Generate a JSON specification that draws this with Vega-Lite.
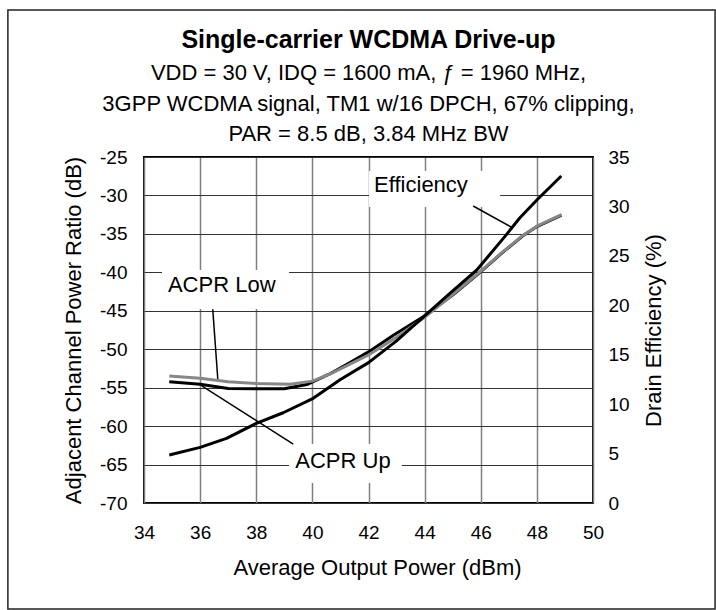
{
  "$schema": "https://vega.github.io/schema/vega-lite/v6.json",
  "width": 449,
  "height": 346,
  "autosize": {"type": "none"},
  "padding": {"left": 144, "top": 157, "right": 123, "bottom": 107},
  "background": "white",
  "config": {
    "font": "Liberation Sans",
    "view": {"stroke": "#000", "strokeWidth": 2},
    "axis": {
      "labelColor": "#000", "titleColor": "#000",
      "labelFont": "Liberation Sans", "titleFont": "Liberation Sans",
      "labelFontSize": 19, "titleFontSize": 22, "titleFontWeight": "normal",
      "ticks": false, "domain": false, "labelFlush": false, "labelOverlap": false,
      "labelExpr": "'' + datum.value", "tickCount": 20
    },
    "axisLeft": {"tickCount": 20, "grid": true, "gridColor": "#333", "gridWidth": 1, "labelPadding": 17, "titlePadding": 14},
    "axisBottom": {"tickCount": 20, "grid": true, "gridColor": "#808080", "gridWidth": 1.5, "labelPadding": 20, "titlePadding": 15, "titleX": 233},
    "axisRight": {"tickCount": 20, "grid": false, "labelPadding": 15, "titlePadding": 14}
  },
  "title": {
    "text": "Single-carrier WCDMA Drive-up",
    "subtitle": [
      "VDD = 30 V, IDQ = 1600 mA, ƒ = 1960 MHz,",
      "3GPP WCDMA signal, TM1 w/16 DPCH, 67% clipping,",
      "PAR = 8.5 dB, 3.84 MHz BW"
    ],
    "font": "Liberation Sans",
    "fontSize": 25,
    "fontWeight": "bold",
    "color": "#000",
    "subtitleFont": "Liberation Sans",
    "subtitleFontSize": 22,
    "subtitleColor": "#000",
    "subtitleLineHeight": 30.5,
    "subtitlePadding": 10,
    "anchor": "middle",
    "offset": -136
  },
  "datasets": {
    "acpr": [
      {"power": 34.9, "acpr": -53.47, "series": "ACPR Low"},
      {"power": 36, "acpr": -53.77, "series": "ACPR Low"},
      {"power": 37, "acpr": -54.24, "series": "ACPR Low"},
      {"power": 38, "acpr": -54.45, "series": "ACPR Low"},
      {"power": 39.2, "acpr": -54.55, "series": "ACPR Low"},
      {"power": 40, "acpr": -54.15, "series": "ACPR Low"},
      {"power": 40.7, "acpr": -53.1, "series": "ACPR Low"},
      {"power": 41.34, "acpr": -51.95, "series": "ACPR Low"},
      {"power": 42, "acpr": -50.75, "series": "ACPR Low"},
      {"power": 43, "acpr": -48.45, "series": "ACPR Low"},
      {"power": 44, "acpr": -45.85, "series": "ACPR Low"},
      {"power": 45, "acpr": -42.9, "series": "ACPR Low"},
      {"power": 45.86, "acpr": -40.3, "series": "ACPR Low"},
      {"power": 46.7, "acpr": -37.6, "series": "ACPR Low"},
      {"power": 47.5, "acpr": -35.2, "series": "ACPR Low"},
      {"power": 48, "acpr": -34.0, "series": "ACPR Low"},
      {"power": 48.88, "acpr": -32.5, "series": "ACPR Low"},
      {"power": 34.9, "acpr": -54.24, "series": "ACPR Up"},
      {"power": 36, "acpr": -54.55, "series": "ACPR Up"},
      {"power": 37, "acpr": -55.1, "series": "ACPR Up"},
      {"power": 38, "acpr": -55.15, "series": "ACPR Up"},
      {"power": 39, "acpr": -55.15, "series": "ACPR Up"},
      {"power": 39.8, "acpr": -54.6, "series": "ACPR Up"},
      {"power": 40.6, "acpr": -53.25, "series": "ACPR Up"},
      {"power": 41.34, "acpr": -51.73, "series": "ACPR Up"},
      {"power": 42, "acpr": -50.35, "series": "ACPR Up"},
      {"power": 42.9, "acpr": -48.15, "series": "ACPR Up"},
      {"power": 43.95, "acpr": -45.77, "series": "ACPR Up"},
      {"power": 45, "acpr": -42.95, "series": "ACPR Up"},
      {"power": 45.86, "acpr": -40.35, "series": "ACPR Up"},
      {"power": 46.7, "acpr": -37.65, "series": "ACPR Up"},
      {"power": 47.5, "acpr": -35.25, "series": "ACPR Up"},
      {"power": 48, "acpr": -34.05, "series": "ACPR Up"},
      {"power": 48.88, "acpr": -32.55, "series": "ACPR Up"}
    ],
    "eff": [
      {"power": 34.9, "eff": 4.86},
      {"power": 36, "eff": 5.63},
      {"power": 36.94, "eff": 6.54},
      {"power": 38, "eff": 8.06},
      {"power": 38.96, "eff": 9.13},
      {"power": 40.03, "eff": 10.59},
      {"power": 41, "eff": 12.5},
      {"power": 42, "eff": 14.2},
      {"power": 43, "eff": 16.4},
      {"power": 43.95, "eff": 18.8},
      {"power": 44.9, "eff": 21.2},
      {"power": 45.86, "eff": 23.57},
      {"power": 46.9, "eff": 27.1},
      {"power": 47.38, "eff": 28.8},
      {"power": 48, "eff": 30.65},
      {"power": 48.87, "eff": 33.08}
    ]
  },
  "resolve": {"scale": {"y": "independent"}},
  "layer": [
    {
      "layer": [
        {
          "data": {"name": "acpr"},
          "transform": [{"filter": "datum.series === 'ACPR Up'"}],
          "mark": {"type": "line", "color": "#000", "strokeWidth": 3, "strokeJoin": "round"},
          "encoding": {
            "x": {
              "field": "power", "type": "quantitative",
              "scale": {"domain": [34, 50], "nice": false, "zero": false},
              "axis": {"title": "Average Output Power (dBm)", "values": [34, 36, 38, 40, 42, 44, 46, 48, 50]}
            },
            "y": {
              "field": "acpr", "type": "quantitative",
              "scale": {"domain": [-70, -25], "nice": false, "zero": false},
              "axis": {"title": "Adjacent Channel Power Ratio (dB)", "values": [-70, -65, -60, -55, -50, -45, -40, -35, -30, -25]}
            }
          }
        },
        {
          "data": {"values": [{}]},
          "mark": {"type": "rect", "fill": null, "fillOpacity": 0, "stroke": "#222", "strokeWidth": 1.5},
          "encoding": {
            "x": {"datum": 29.15, "type": "quantitative"},
            "x2": {"datum": 54.35},
            "y": {"datum": -5.88, "type": "quantitative"},
            "y2": {"datum": -83.79}
          }
        },
        {
          "data": {"values": [{}]},
          "mark": {"type": "rect", "fill": "white", "stroke": null},
          "encoding": {
            "x": {"datum": 42.02, "type": "quantitative"},
            "x2": {"datum": 46.69},
            "y": {"datum": -26.82, "type": "quantitative"},
            "y2": {"datum": -31.5}
          }
        },
        {
          "data": {"values": [{}]},
          "mark": {"type": "rect", "fill": "white", "stroke": null},
          "encoding": {
            "x": {"datum": 34.64, "type": "quantitative"},
            "x2": {"datum": 39.17},
            "y": {"datum": -39.7, "type": "quantitative"},
            "y2": {"datum": -44.77}
          }
        },
        {
          "data": {"values": [{}]},
          "mark": {"type": "rect", "fill": "white", "stroke": null},
          "encoding": {
            "x": {"datum": 39.17, "type": "quantitative"},
            "x2": {"datum": 43.19},
            "y": {"datum": -62.33, "type": "quantitative"},
            "y2": {"datum": -67.4}
          }
        },
        {
          "data": {"values": [{}]},
          "mark": {"type": "rule", "color": "#000", "strokeWidth": 1.5},
          "encoding": {
            "x": {"datum": 45.73, "type": "quantitative"},
            "x2": {"datum": 47.1},
            "y": {"datum": -31.37, "type": "quantitative"},
            "y2": {"datum": -34.14}
          }
        },
        {
          "data": {"values": [{}]},
          "mark": {"type": "rule", "color": "#000", "strokeWidth": 1.5},
          "encoding": {
            "x": {"datum": 36.45, "type": "quantitative"},
            "x2": {"datum": 36.63},
            "y": {"datum": -44.81, "type": "quantitative"},
            "y2": {"datum": -53.91}
          }
        },
        {
          "data": {"values": [{}]},
          "mark": {"type": "rule", "color": "#000", "strokeWidth": 1.5},
          "encoding": {
            "x": {"datum": 39.32, "type": "quantitative"},
            "x2": {"datum": 36.06},
            "y": {"datum": -62.33, "type": "quantitative"},
            "y2": {"datum": -54.78}
          }
        },
        {
          "data": {"values": [{}]},
          "mark": {"type": "text", "text": "Efficiency", "fontSize": 22, "align": "center", "baseline": "alphabetic", "color": "#000"},
          "encoding": {
            "x": {"datum": 43.87, "type": "quantitative"},
            "y": {"datum": -29.51, "type": "quantitative"}
          }
        },
        {
          "data": {"values": [{}]},
          "mark": {"type": "text", "text": "ACPR Low", "fontSize": 22, "align": "center", "baseline": "alphabetic", "color": "#000"},
          "encoding": {
            "x": {"datum": 36.77, "type": "quantitative"},
            "y": {"datum": -42.56, "type": "quantitative"}
          }
        },
        {
          "data": {"values": [{}]},
          "mark": {"type": "text", "text": "ACPR Up", "fontSize": 22, "align": "center", "baseline": "alphabetic", "color": "#000"},
          "encoding": {
            "x": {"datum": 41.09, "type": "quantitative"},
            "y": {"datum": -65.45, "type": "quantitative"}
          }
        },
        {
          "data": {"name": "acpr"},
          "transform": [{"filter": "datum.series === 'ACPR Low'"}],
          "mark": {"type": "line", "color": "#878787", "strokeWidth": 3, "strokeJoin": "round"},
          "encoding": {
            "x": {"field": "power", "type": "quantitative"},
            "y": {"field": "acpr", "type": "quantitative"}
          }
        }
      ]
    },
    {
      "data": {"name": "eff"},
      "mark": {"type": "line", "color": "#000", "strokeWidth": 3, "strokeJoin": "round"},
      "encoding": {
        "x": {"field": "power", "type": "quantitative"},
        "y": {
          "field": "eff", "type": "quantitative",
          "scale": {"domain": [0, 35], "nice": false, "zero": false},
          "axis": {
            "orient": "right",
            "title": "Drain Efficiency (%)",
            "values": [0, 5, 10, 15, 20, 25, 30, 35],
            "titleAngle": 270, "titleBaseline": "top"
          }
        }
      }
    }
  ]
}
